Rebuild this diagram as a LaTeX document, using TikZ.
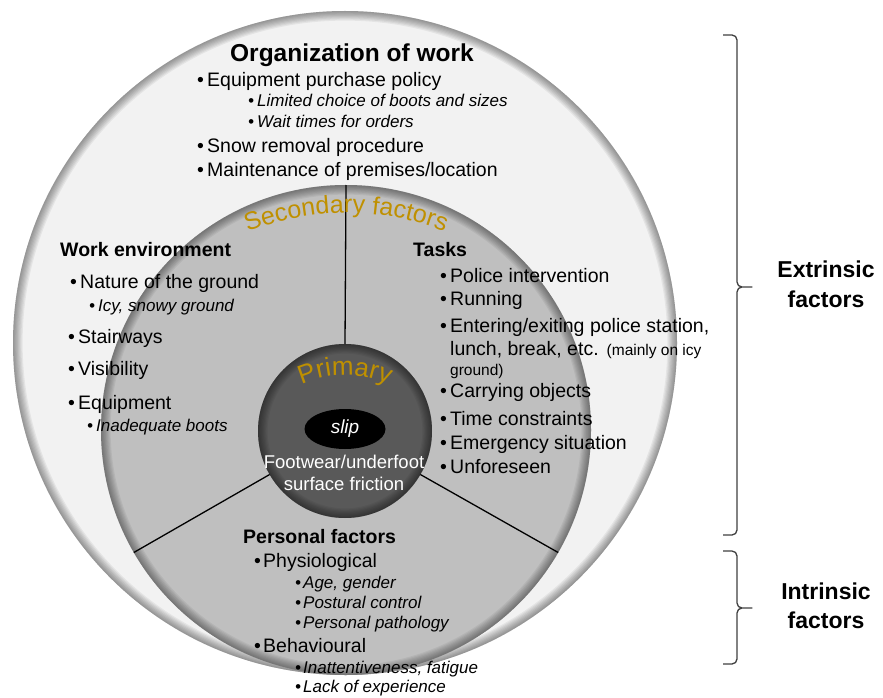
\documentclass[tikz,border=0pt]{standalone}
\usepackage{fontspec}
\setmainfont{Liberation Sans}
\usetikzlibrary{shapes.geometric,decorations.text}
\definecolor{outerfill}{HTML}{F2F2F2}
\definecolor{secfill}{HTML}{BFBFBF}
\definecolor{prifill}{HTML}{595959}
\definecolor{gold}{HTML}{BF9000}
\definecolor{bracegray}{HTML}{404040}
\newcommand\fmain{\fontsize{19.5}{22}\selectfont}
\newcommand\fsub{\fontsize{17}{19}\selectfont\itshape}
\newcommand\fhead{\fontsize{19.5}{22}\selectfont\bfseries}
\newcommand\fsmall{\fontsize{15.5}{17}\selectfont}
\newcommand\bl[1]{\makebox[#1][l]{•}}
% right-pointing curly bracket: top end, bottom end, y of the tip
\newcommand\rbracket[3]{%
  \draw[curly] (#1) -- ++(9,0) arc[start angle=90, end angle=0, radius=5]
    |- ([shift={(14,5)}]#1 |- 0,#3) arc[start angle=180, end angle=270, radius=5]
    -- ++(10,0) -- ++(-10,0) arc[start angle=90, end angle=180, radius=5]
    -- ([shift={(14,5)}]#2) arc[start angle=0, end angle=-90, radius=5] -- (#2);}

\begin{document}
\begin{tikzpicture}[x=1pt,y=1pt,
  disc/.style={circle, inner sep=0pt, outer sep=0pt},
  rim/.style={path picture={
     \foreach \k [evaluate=\k as \lw using 2.4*\k] in {1,...,8}
       \draw[black, opacity=0.055, line width=\lw pt]
         (path picture bounding box.center) circle[radius=#1];}},
  divider/.style={black, line width=1.3pt},
  item/.style={anchor=base west, inner sep=0pt, font=\fmain},
  subitem/.style={anchor=base west, inner sep=0pt, font=\fsub},
  head/.style={anchor=base west, inner sep=0pt, font=\fhead},
  side/.style={anchor=base, inner sep=0pt, font=\fontsize{23}{26}\selectfont\bfseries},
  inner/.style={anchor=base, inner sep=0pt, text=white, font=\fontsize{18.5}{21}\selectfont},
  curly/.style={draw=bracegray, line width=1.3pt, line join=round}]

\fill[white] (0,0) rectangle (883,-698);
\useasboundingbox (0,0) rectangle (883,-698);

% nested discs: outer ring, secondary ring, primary core
\node[disc, minimum size=664pt, fill=outerfill, rim=332] (outer) at (345,-343) {};
\node[disc, minimum size=490pt, fill=secfill, rim=245] (sec) at (346,-430) {};
\node[disc, minimum size=174pt, fill=prifill, rim=87] (pri) at (345,-431) {};

% sector dividers of the secondary ring
\draw[divider] (pri.90) -- (sec.90);
\draw[divider] (pri.210) -- (sec.210);
\draw[divider] (pri.330) -- (sec.330);

% core
\node[ellipse, fill=black, minimum width=81pt, minimum height=40pt, inner sep=0pt,
      text=white, font=\fontsize{19}{21}\selectfont\itshape] (slip) at (345,-429) {slip};
\node[inner] (fw1) at (344,-468) {Footwear/underfoot};
\node[inner] (fw2) at (344,-490) {surface friction};

% arched ring titles
\path[decorate, decoration={text along path, text align=center, text color=gold,
      text={|\fontsize{25}{25}\selectfont|Secondary factors}}]
  ([shift={(150:267)}]346,-480) arc[start angle=150, end angle=30, radius=267];
\path[decorate, decoration={text along path, text align=center, text color=gold,
      text={|\fontsize{26}{26}\selectfont|Primary}}]
  ([shift={(150:105)}]345,-480) arc[start angle=150, end angle=30, radius=105];

% organization of work
\node[anchor=base, inner sep=0pt, font=\fontsize{24.5}{27}\selectfont\bfseries] (title) at (352,-62) {Organization of work};
\node[item] (o1) at (197,-87) {\bl{10pt}Equipment purchase policy};
\node[subitem] (o2) at (248,-107) {\bl{9pt}Limited choice of boots and sizes};
\node[subitem] (o3) at (248,-128) {\bl{9pt}Wait times for orders};
\node[item] (o4) at (197,-153) {\bl{10pt}Snow removal procedure};
\node[item] (o5) at (197,-176) {\bl{10pt}Maintenance of premises/location};

% work environment
\node[head] (w0) at (60,-256) {Work environment};
\node[item] (w1) at (70,-288) {\bl{10pt}Nature of the ground};
\node[subitem] (w2) at (89,-311) {\bl{9pt}Icy, snowy ground};
\node[item] (w3) at (68,-343) {\bl{10pt}Stairways};
\node[item] (w4) at (68,-375) {\bl{10pt}Visibility};
\node[item] (w5) at (68,-409) {\bl{10pt}Equipment};
\node[subitem] (w6) at (87,-431) {\bl{9pt}Inadequate boots};

% tasks
\node[head] (t0) at (413,-256) {Tasks};
\node[item] (t1) at (440,-282) {\bl{10pt}Police intervention};
\node[item] (t2) at (440,-305) {\bl{10pt}Running};
\node[item] (t3) at (440,-332) {\bl{10pt}Entering/exiting police station,};
\node[item] (t4) at (450,-355) {lunch, break, etc.\hspace{8pt}{\fsmall(mainly on icy}};
\node[anchor=base west, inner sep=0pt, font=\fsmall] (t5) at (450,-375) {ground)};
\node[item] (t6) at (440,-397) {\bl{10pt}Carrying objects};
\node[item] (t7) at (440,-425) {\bl{10pt}Time constraints};
\node[item] (t8) at (440,-449) {\bl{10pt}Emergency situation};
\node[item] (t9) at (440,-473) {\bl{10pt}Unforeseen};

% personal factors
\node[head] (p0) at (243,-543) {Personal factors};
\node[item] (p1) at (254,-567) {\bl{9pt}Physiological};
\node[subitem] (p2) at (295,-588) {\bl{8pt}Age, gender};
\node[subitem] (p3) at (295,-608) {\bl{8pt}Postural control};
\node[subitem] (p4) at (295,-628) {\bl{8pt}Personal pathology};
\node[item] (p5) at (254,-652) {\bl{9pt}Behavioural};
\node[subitem] (p6) at (295,-673) {\bl{8pt}Inattentiveness, fatigue};
\node[subitem] (p7) at (295,-692) {\bl{8pt}Lack of experience};

% extrinsic / intrinsic brackets
\coordinate (eT) at (723,-35);
\coordinate (eB) at (723,-535);
\coordinate (iT) at (723,-551);
\coordinate (iB) at (723,-664);
\rbracket{eT}{eB}{-287}
\rbracket{iT}{iB}{-608}
\node[side] (ext1) at (826,-277) {Extrinsic};
\node[side] (ext2) at (826,-307) {factors};
\node[side] (int1) at (826,-599) {Intrinsic};
\node[side] (int2) at (826,-628) {factors};
\end{tikzpicture}
\end{document}
